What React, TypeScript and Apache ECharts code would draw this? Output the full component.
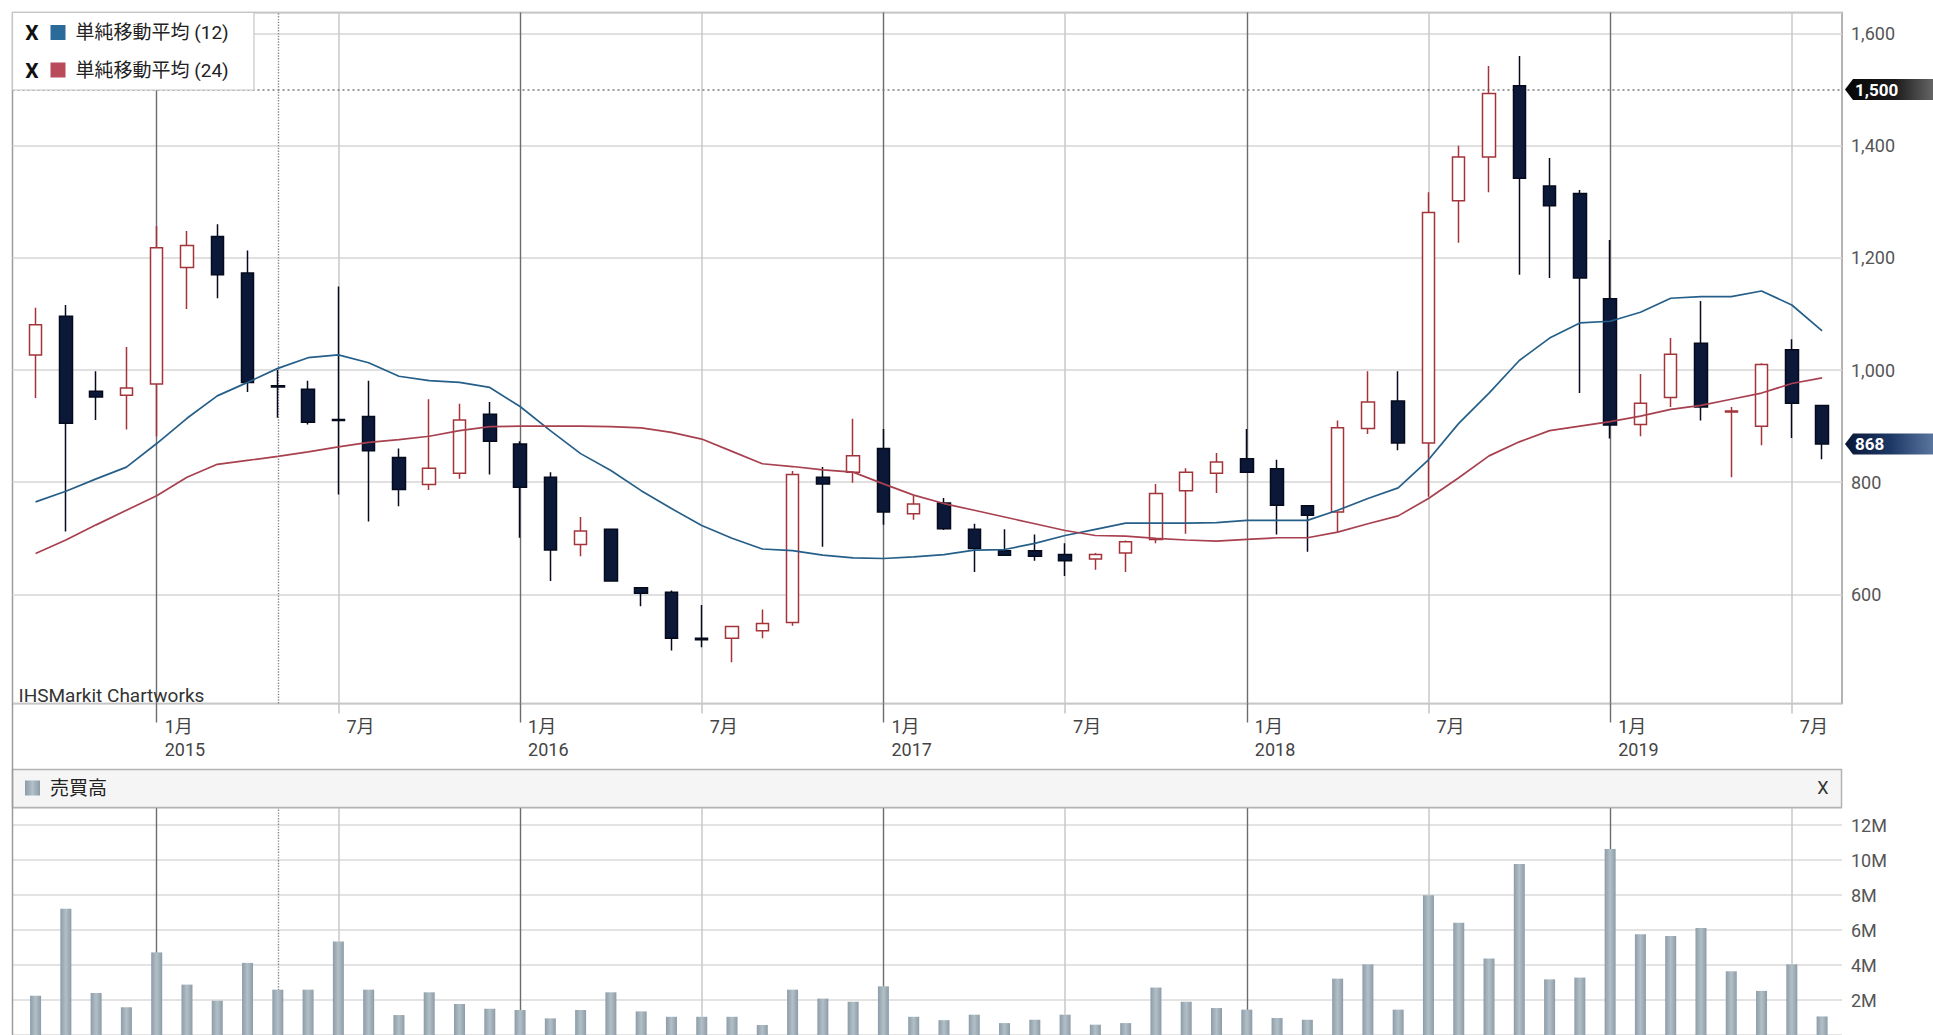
import React, { useEffect, useRef } from 'react';
import * as echarts from 'echarts';

// ---------------- data ----------------
const months = [
  '2014-09', '2014-10', '2014-11', '2014-12',
  '2015-01', '2015-02', '2015-03', '2015-04', '2015-05', '2015-06', '2015-07', '2015-08', '2015-09', '2015-10', '2015-11', '2015-12',
  '2016-01', '2016-02', '2016-03', '2016-04', '2016-05', '2016-06', '2016-07', '2016-08', '2016-09', '2016-10', '2016-11', '2016-12',
  '2017-01', '2017-02', '2017-03', '2017-04', '2017-05', '2017-06', '2017-07', '2017-08', '2017-09', '2017-10', '2017-11', '2017-12',
  '2018-01', '2018-02', '2018-03', '2018-04', '2018-05', '2018-06', '2018-07', '2018-08', '2018-09', '2018-10', '2018-11', '2018-12',
  '2019-01', '2019-02', '2019-03', '2019-04', '2019-05', '2019-06', '2019-07', '2019-08',
];

const openP = [
  1027, 1096, 962, 955,
  975, 1183, 1238, 1173, 972, 966, 912, 917, 844, 796, 816, 921,
  868, 809, 689, 716, 612, 604, 522, 522, 535, 550, 809, 818,
  860, 744, 763, 716, 678, 678, 671, 663, 674, 698, 785, 816,
  842, 824, 758, 747, 896, 945, 870, 1302, 1380, 1507, 1328, 1315,
  1127, 903, 951, 1048, 925, 900, 1036, 937,
];
const closeP = [
  1081, 905, 952, 968,
  1218, 1222, 1170, 978, 970, 907, 910, 856, 787, 825, 911, 873,
  791, 679, 713, 624, 602, 522, 519, 543, 548, 814, 797, 847,
  747, 761, 717, 682, 670, 668, 660, 671, 694, 780, 818, 836,
  818, 759, 741, 897, 943, 870, 1281, 1380, 1493, 1342, 1293, 1164,
  902, 941, 1028, 934, 927, 1010, 941, 868,
];
const lowP = [
  950, 712, 911, 894,
  882, 1109, 1128, 961, 915, 903, 778, 730, 757, 786, 806, 814,
  701, 624, 668, 623, 579, 500, 506, 479, 522, 544, 685, 799,
  724, 733, 715, 640, 669, 660, 633, 644, 640, 691, 708, 781,
  817, 707, 676, 711, 886, 857, 774, 1227, 1317, 1170, 1164, 959,
  878, 882, 934, 910, 809, 866, 879, 841,
];
const highP = [
  1111, 1116, 998, 1041,
  1257, 1248, 1260, 1213, 1000, 981, 1149, 981, 860, 948, 940, 943,
  873, 818, 738, 717, 613, 607, 581, 544, 573, 820, 827, 913,
  895, 777, 772, 726, 716, 707, 691, 674, 696, 797, 825, 852,
  895, 840, 759, 910, 998, 998, 1317, 1400, 1542, 1560, 1378, 1321,
  1232, 993, 1057, 1123, 934, 1012, 1055, 938,
];
const ma12 = [
  765, 784, 806, 827,
  869, 914, 954, 978, 1003, 1022, 1027, 1013, 989, 981, 978, 969,
  935, 892, 851, 821, 785, 753, 723, 700, 681, 678, 670, 665,
  664, 667, 671, 679, 680, 691, 705, 716, 727, 727, 727, 728,
  732, 732, 732, 750, 771, 790, 840, 905, 959, 1017, 1057, 1084,
  1087, 1103, 1128, 1131, 1131, 1141, 1116, 1070,
];
const ma24 = [
  673, 697, 724, 750,
  776, 809, 832, 839, 846, 854, 863, 871, 876, 882, 892, 899,
  900, 900, 900, 899, 897, 889, 877, 855, 833, 828, 822, 818,
  797, 777, 762, 750, 738, 726, 714, 705, 704, 700, 697, 695,
  698, 701, 701, 711, 726, 740, 771, 808, 847, 872, 892, 900,
  908, 918, 930, 937, 948, 959, 976, 986,
];
// monthly trading volume, in millions
const volumeM = [
  2.25, 7.22, 2.40, 1.58,
  4.72, 2.88, 1.96, 4.12, 2.59, 2.59, 5.35, 2.59, 1.14, 2.44, 1.77, 1.50,
  1.43, 0.95, 1.43, 2.44, 1.35, 1.04, 1.04, 1.04, 0.57, 2.59, 2.08, 1.90,
  2.78, 1.04, 0.85, 1.16, 0.68, 0.87, 1.16, 0.59, 0.68, 2.71, 1.90, 1.54,
  1.45, 0.97, 0.87, 3.22, 4.04, 1.45, 7.99, 6.41, 4.37, 9.77, 3.18, 3.28,
  10.63, 5.76, 5.66, 6.12, 3.64, 2.52, 4.04, 1.06,
];
const REF_LEVEL = 1500;
const DOTTED_MONTH = '2015-05';
const MA12_NAME = '単純移動平均 (12)';
const MA24_NAME = '単純移動平均 (24)';
const VOL_NAME = '売買高';

// ---------------- layout ----------------
const W = 1933;
const H = 1035;
const FONT = "Roboto, 'Noto Sans CJK JP', sans-serif";
const PLOT_LEFT = 12.5;
const PLOT_RIGHT = 1842;
const PLOT_W = PLOT_RIGHT - PLOT_LEFT;
const PRICE_TOP = 12.5;
const PRICE_H = 691;
const VOL_TOP = 807.5;
const VOL_H = H - VOL_TOP;
const X_MIN = -0.762;
const X_MAX = 59.657;
const Y_MIN = 405.5;
const Y_MAX = 1637.5;
const VOL_MAX = 13.0e6;
const BAND = PLOT_W / (X_MAX - X_MIN);
const CAT_LEFT = PLOT_LEFT + (0 - X_MIN) * BAND - BAND / 2;
const CAT_W = BAND * months.length;

const isJan = (i: number) => months[i].endsWith('-01');
const isJul = (i: number) => months[i].endsWith('-07');
const janIdx = months.map((m, i) => i).filter(isJan);
const julIdx = months.map((m, i) => i).filter(isJul);
const dottedIdx = months.indexOf(DOTTED_MONTH);

const JAN_LINE = { color: '#6c6c6c', width: 1.4, type: 'solid' };
const JUL_LINE = { color: '#c9c9c9', width: 1.5, type: 'solid' };
const DOT_LINE = { color: '#8a8a8a', width: 1.4, type: 'dotted' };

const verticalMarks = () => [
  ...janIdx.map((i) => ({ xAxis: i, lineStyle: JAN_LINE })),
  ...julIdx.map((i) => ({ xAxis: i, lineStyle: JUL_LINE })),
  { xAxis: dottedIdx, lineStyle: DOT_LINE },
];

const TAG = 'path://M0,10.5L8,0L91,0L91,21L8,21Z';

function buildOption() {
  const lastClose = closeP[closeP.length - 1];
  const tagLabel = {
    show: true,
    position: 'insideLeft',
    distance: 10,
    color: '#ffffff',
    fontWeight: 'bold',
    fontSize: 17,
    fontFamily: FONT,
  };
  const crossStyle = {
    text: 'X', fill: '#111', fontSize: 21, fontWeight: 'bold',
    fontFamily: 'Roboto, sans-serif', align: 'center', verticalAlign: 'middle',
  };
  return {
    animation: false,
    backgroundColor: '#ffffff',
    textStyle: { fontFamily: FONT },
    grid: [
      { left: PLOT_LEFT, top: PRICE_TOP, width: PLOT_W, height: PRICE_H, show: true, borderColor: '#9c9c9c', borderWidth: 1.5, backgroundColor: 'transparent' },
      { left: PLOT_LEFT, top: VOL_TOP, width: PLOT_W, height: VOL_H, show: false },
      { left: CAT_LEFT, top: PRICE_TOP, width: CAT_W, height: PRICE_H, show: false },
    ],
    xAxis: [
      { type: 'value', gridIndex: 0, min: X_MIN, max: X_MAX, show: false },
      { type: 'value', gridIndex: 1, min: X_MIN, max: X_MAX, show: false },
      {
        type: 'category', gridIndex: 2, position: 'bottom', data: months, boundaryGap: true,
        axisLine: { show: false },
        axisTick: { show: true, alignWithLabel: true, interval: (i: number) => isJan(i), length: 19, lineStyle: { color: '#6c6c6c', width: 1.4 } },
        axisLabel: {
          interval: (i: number) => isJan(i) || isJul(i),
          formatter: (v: string) => {
            const [y, m] = v.split('-');
            return m === '01' ? `1月\n${y}` : `${Number(m)}月`;
          },
          align: 'left', padding: [0, 0, 0, 8], margin: 11, color: '#444', fontSize: 18, lineHeight: 23, fontFamily: FONT,
        },
        splitLine: { show: false },
      },
      {
        type: 'category', gridIndex: 2, position: 'bottom', data: months, boundaryGap: true,
        axisLine: { show: false },
        axisTick: { show: true, alignWithLabel: true, interval: (i: number) => isJul(i), length: 10, lineStyle: { color: '#c4c4c4', width: 1.5 } },
        axisLabel: { show: false },
        splitLine: { show: false },
      },
    ],
    yAxis: [
      {
        type: 'value', gridIndex: 0, position: 'right', min: Y_MIN, max: Y_MAX, splitNumber: 6,
        axisLine: { show: false }, axisTick: { show: false },
        axisLabel: {
          margin: 9, color: '#555', fontSize: 18, fontFamily: FONT,
          formatter: (v: number) => (v % 200 === 0 ? v.toLocaleString('en-US') : ''),
        },
        splitLine: { lineStyle: { color: '#d6d6d6', width: 1.5 } },
      },
      {
        type: 'value', gridIndex: 1, position: 'right', min: 0, max: VOL_MAX, interval: 2e6,
        axisLine: { show: false }, axisTick: { show: false },
        axisLabel: {
          margin: 9, color: '#555', fontSize: 18, fontFamily: FONT,
          formatter: (v: number) => (v > 0 && v % 2e6 === 0 ? `${v / 1e6}M` : ''),
        },
        splitLine: { lineStyle: { color: '#dadada', width: 1.5 } },
      },
      { type: 'value', gridIndex: 2, min: 0, max: 1, show: false },
    ],
    legend: [
      {
        data: [MA12_NAME, MA24_NAME], orient: 'vertical', left: 50.5, top: 21.5, padding: 0, itemGap: 15.5,
        itemWidth: 15, itemHeight: 15, icon: 'rect', selectedMode: false, z: 20,
        itemStyle: { borderWidth: 0 },
        textStyle: { fontSize: 19, lineHeight: 22, color: '#222', fontFamily: FONT, padding: [0, 0, 0, 5] },
      },
      {
        data: [VOL_NAME], orient: 'horizontal', left: 25, top: 777, padding: 0,
        itemWidth: 15, itemHeight: 15, icon: 'rect', selectedMode: false, z: 20,
        itemStyle: { borderWidth: 0 },
        textStyle: { fontSize: 19, lineHeight: 22, color: '#222', fontFamily: FONT, padding: [0, 0, 0, 5] },
      },
    ],
    graphic: [
      { type: 'rect', z: 10, shape: { x: 12.5, y: 12.5, width: 241.5, height: 77.5 }, style: { fill: '#ffffff', stroke: '#c6c6c6', lineWidth: 1.2 } },
      { type: 'text', z: 11, x: 32, y: 33, style: crossStyle },
      { type: 'text', z: 11, x: 32, y: 70.5, style: crossStyle },
      { type: 'text', z: 11, x: 18.5, y: 695, style: { text: 'IHSMarkit Chartworks', fill: '#333', fontSize: 19, fontFamily: FONT, align: 'left', verticalAlign: 'middle' } },
      { type: 'line', z: 11, shape: { x1: 12.5, y1: PRICE_TOP + PRICE_H, x2: 12.5, y2: H }, style: { stroke: '#9c9c9c', lineWidth: 1.5 } },
      { type: 'rect', z: 10, shape: { x: 12.5, y: 769.5, width: 1829, height: 38 }, style: { fill: '#f5f5f5', stroke: '#b3b3b3', lineWidth: 1.5 } },
      { type: 'text', z: 11, x: 1823, y: 787, style: { text: 'X', fill: '#333', fontSize: 18, fontFamily: 'Roboto, sans-serif', align: 'center', verticalAlign: 'middle' } },
    ],
    series: [
      {
        type: 'candlestick', name: 'price', xAxisIndex: 0, yAxisIndex: 0,
        data: months.map((m, i) => [i, openP[i], closeP[i], lowP[i], highP[i]]),
        barWidth: 13,
        itemStyle: { color: '#ffffff', color0: '#0b1838', borderColor: '#a3343a', borderColor0: '#050b1c', borderWidth: 1.5 },
        markLine: {
          silent: true, symbol: ['none', 'none'], z: 1, label: { show: false },
          data: [
            ...verticalMarks(),
            { yAxis: REF_LEVEL, lineStyle: { color: '#7a7a7a', width: 1.5, type: [2, 3] } },
          ],
        },
        markPoint: {
          silent: true, z: 12,
          data: [
            {
              coord: [X_MAX, REF_LEVEL], symbol: TAG, symbolSize: [91, 21], symbolOffset: [48.5, 0],
              itemStyle: { color: { type: 'linear', x: 0, y: 0, x2: 1, y2: 0, colorStops: [{ offset: 0, color: '#050505' }, { offset: 0.55, color: '#1c1c1c' }, { offset: 1, color: '#6a6a6a' }] } },
              label: { ...tagLabel, formatter: REF_LEVEL.toLocaleString('en-US') },
            },
            {
              coord: [X_MAX, lastClose], symbol: TAG, symbolSize: [91, 21], symbolOffset: [48.5, 0],
              itemStyle: { color: { type: 'linear', x: 0, y: 0, x2: 1, y2: 0, colorStops: [{ offset: 0, color: '#091736' }, { offset: 0.5, color: '#1e3866' }, { offset: 1, color: '#5d7aa3' }] } },
              label: { ...tagLabel, formatter: String(lastClose) },
            },
          ],
        },
      },
      {
        type: 'line', name: MA12_NAME, xAxisIndex: 0, yAxisIndex: 0, z: 3,
        data: ma12.map((v, i) => [i, v]), symbol: 'none', color: '#2a6b99',
        lineStyle: { color: '#255f89', width: 1.7 },
      },
      {
        type: 'line', name: MA24_NAME, xAxisIndex: 0, yAxisIndex: 0, z: 3,
        data: ma24.map((v, i) => [i, v]), symbol: 'none', color: '#b94a5b',
        lineStyle: { color: '#a8414f', width: 1.7 },
      },
      {
        type: 'bar', name: VOL_NAME, xAxisIndex: 1, yAxisIndex: 1,
        data: volumeM.map((v, i) => [i, v * 1e6]), barWidth: 11,
        itemStyle: { color: { type: 'linear', x: 0, y: 0, x2: 1, y2: 0, colorStops: [{ offset: 0, color: '#8c9ca7' }, { offset: 0.5, color: '#b2bfc7' }, { offset: 1, color: '#8c9ca7' }] } },
        markLine: {
          silent: true, symbol: ['none', 'none'], z: 1, label: { show: false },
          data: verticalMarks(),
        },
      },
    ],
  };
}

export default function App() {
  const ref = useRef<HTMLDivElement>(null);
  useEffect(() => {
    if (!ref.current) return;
    const chart = echarts.init(ref.current, undefined, { renderer: 'svg' });
    chart.setOption(buildOption() as any);
    return () => chart.dispose();
  }, []);
  return (
    <div
      ref={ref}
      style={{ position: 'fixed', left: 0, top: 0, width: `${W}px`, height: `${H}px`, background: '#fff' }}
    />
  );
}
